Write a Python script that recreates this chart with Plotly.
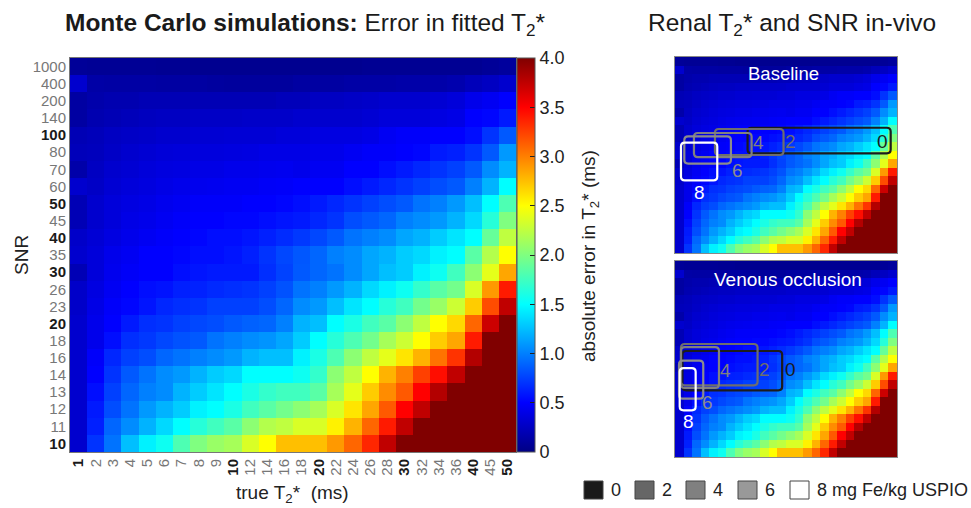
import plotly.graph_objects as go

W, H = 971, 508
FONT = "Liberation Sans"

t2_labels = ["1","2","3","4","5","6","7","8","9","10","12","14","16","18","20","22","24","26","28","30","32","34","36","40","45","50"]
snr_labels = ["10","11","12","13","14","16","18","20","23","26","30","35","40","45","50","60","70","80","100","140","200","400","1000"]
bold_t2 = ["1","10","20","30","40","50"]
bold_snr = ["10","20","30","40","50","100"]

snr10 = [.3,.7,.95,1.25,1.45,1.55,1.8,2.0,2.1,2.15,2.35,2.5,2.75,2.75,2.75,2.9,3.1,3.35,3.75,4,4,4,4,4,4,4]
snr11 = [.3,.62,.9,1.05,1.2,1.35,1.5,1.65,1.75,1.85,2.05,2.2,2.25,2.35,2.35,2.55,2.8,3.1,3.4,3.75,4,4,4,4,4,4]
snr12 = [.3,.6,.8,.95,1.1,1.2,1.3,1.45,1.5,1.6,1.75,1.85,1.95,2.05,2.15,2.35,2.6,2.85,3.15,3.5,3.75,4,4,4,4,4]
snr13 = [.3,.55,.75,.9,1.0,1.05,1.2,1.3,1.4,1.5,1.6,1.7,1.75,1.75,1.85,2.15,2.4,2.7,2.95,3.15,3.5,3.8,4,4,4,4]
snr14 = [.3,.5,.7,.85,.95,1.05,1.1,1.2,1.3,1.35,1.5,1.5,1.5,1.55,1.7,2.05,2.25,2.5,2.8,3.0,3.25,3.45,3.75,4,4,4]
snr16 = [.3,.48,.65,.75,.8,.9,.95,1.0,1.05,1.1,1.2,1.25,1.25,1.45,1.6,1.8,2.05,2.25,2.4,2.6,2.8,3.05,3.3,3.8,4,4]
snr18 = [.3,.42,.55,.68,.72,.78,.82,.85,.95,1.0,1.05,1.08,1.15,1.3,1.5,1.65,1.8,1.95,2.15,2.3,2.5,2.7,2.85,3.4,4,4]
snr20 = [.3,.42,.5,.6,.68,.7,.75,.78,.8,.85,.88,.9,1.0,1.2,1.25,1.5,1.6,1.75,1.85,2.05,2.25,2.5,2.65,3.1,3.7,4]
snr23 = [.28,.4,.48,.52,.58,.65,.68,.7,.75,.75,.75,.8,.9,1.05,1.1,1.25,1.4,1.5,1.65,1.75,1.95,2.1,2.3,2.7,3.2,3.75]
snr26 = [.28,.38,.45,.5,.55,.57,.62,.63,.66,.68,.7,.75,.82,.95,1.0,1.1,1.2,1.35,1.45,1.55,1.7,1.85,1.95,2.35,2.9,3.4]
snr30 = [.2,.35,.43,.47,.5,.5,.55,.58,.6,.6,.6,.68,.76,.85,.9,.95,1.05,1.15,1.25,1.3,1.45,1.55,1.75,2.05,2.4,2.85]
snr35 = [.3,.35,.42,.45,.5,.5,.52,.55,.55,.58,.62,.7,.78,.84,.9,1.0,1.05,1.15,1.2,1.3,1.35,1.45,1.5,1.85,2.2,2.5]
snr40 = [.28,.33,.38,.42,.45,.48,.5,.52,.55,.55,.58,.62,.67,.72,.78,.85,.95,1.0,1.05,1.15,1.2,1.3,1.4,1.5,1.9,2.25]
snr45 = [.2,.3,.35,.4,.42,.45,.48,.5,.5,.52,.52,.55,.58,.6,.65,.7,.8,.85,.9,1.0,1.05,1.1,1.2,1.35,1.65,2.0]
snr50 = [.2,.3,.35,.38,.4,.43,.45,.48,.48,.48,.5,.5,.52,.55,.6,.65,.7,.75,.8,.85,.95,1.0,1.1,1.25,1.5,1.8]
snr60 = [.3,.27,.32,.35,.37,.4,.42,.43,.44,.45,.45,.47,.48,.5,.5,.5,.55,.6,.65,.7,.75,.8,.85,1.0,1.2,1.5]
snr70 = [.15,.25,.3,.32,.35,.37,.38,.4,.4,.42,.42,.43,.44,.42,.45,.45,.5,.5,.55,.6,.65,.7,.75,.85,1.05,1.2]
snr80 = [.22,.23,.27,.3,.32,.34,.35,.36,.36,.37,.38,.4,.4,.4,.42,.42,.45,.48,.48,.5,.52,.6,.62,.7,.85,1.1]
snr100 = [.2,.22,.25,.27,.28,.3,.3,.32,.32,.33,.33,.33,.35,.35,.38,.38,.38,.4,.45,.48,.48,.5,.5,.55,.7,.85]
snr140 = [.12,.18,.2,.22,.24,.25,.25,.27,.27,.27,.28,.28,.28,.3,.3,.3,.3,.32,.35,.35,.35,.38,.4,.5,.52,.6]
snr200 = [.12,.16,.18,.18,.2,.2,.2,.2,.2,.2,.2,.2,.22,.22,.25,.25,.27,.28,.3,.3,.3,.32,.35,.42,.45,.5]
snr400 = [.3,.14,.13,.13,.13,.12,.12,.12,.11,.1,.1,.1,.1,.12,.12,.12,.14,.14,.14,.15,.15,.15,.17,.22,.25,.3]
snr1000 = [.08,.07,.07,.07,.07,.06,.06,.05,.05,.05,.05,.05,.05,.05,.05,.05,.05,.06,.06,.06,.06,.06,.06,.06,.08,.1]

error_matrix = [snr10, snr11, snr12, snr13, snr14, snr16, snr18, snr20, snr23, snr26, snr30, snr35,
                snr40, snr45, snr50, snr60, snr70, snr80, snr100, snr140, snr200, snr400, snr1000]

jet = [[0, "rgb(0,0,132)"], [0.125, "rgb(0,0,255)"], [0.375, "rgb(0,255,255)"],
       [0.625, "rgb(255,255,0)"], [0.875, "rgb(255,0,0)"], [1, "rgb(128,0,0)"]]

cbar_ticks = [0, .5, 1, 1.5, 2, 2.5, 3, 3.5, 4]
cbar_text = ["0", "0.5", "1.0", "1.5", "2.0", "2.5", "3.0", "3.5", "4.0"]

# regions of interest, in cell-index units: dose, T2 low, T2 high, SNR low, SNR high
doses = ["0", "2", "4", "6", "8"]
dose_line = ["#1c1c1c", "#6e6e6e", "#808080", "#8c8c8c", "#ffffff"]
base_t2_lo = [8.0, 4.18, 1.72, .59, .2]
base_t2_hi = [24.76, 12.21, 8.47, 6.05, 4.45]
base_snr_lo = [11.19, 11.0, 10.76, 9.98, 8.03]
base_snr_hi = [14.2, 14.05, 13.58, 13.19, 12.45]
ven_t2_lo = [.36, .2, .2, -.03, .05]
ven_t2_hi = [12.05, 9.17, 4.65, 2.81, 1.92]
ven_snr_lo = [7.32, 7.91, 7.6, 6.34, 4.98]
ven_snr_hi = [11.94, 12.76, 12.4, 10.8, 9.94]
base_label_x = [882, 790, 758, 737, 699]
base_label_y = [142, 142, 143, 170, 192]
ven_label_x = [790, 764, 725, 707, 688]
ven_label_y = [369, 369, 370, 402, 421]

legend_x = [584, 635, 686, 738, 790]
legend_fill = ["#1a1a1a", "#666666", "#808080", "#999999", "#ffffff"]
legend_text = ["0", "2", "4", "6", "8 mg Fe/kg USPIO"]


def fx(px):
    return px / W


def fy(py):
    return 1 - py / H


def fmt(labels, bold):
    return [f'<b style="color:#1a1a1a">{s}</b>' if s in bold else s for s in labels]


xi = list(range(len(t2_labels)))
yi = list(range(len(snr_labels)))

fig = go.Figure()
fig.add_trace(go.Heatmap(
    z=error_matrix, x=xi, y=yi, xaxis="x", yaxis="y", colorscale=jet, zmin=0, zmax=4,
    hoverinfo="skip",
    colorbar=dict(x=fx(516.5), xanchor="left", xpad=0, ypad=0, y=fy(452), yanchor="bottom",
                  lenmode="pixels", len=394, thicknessmode="pixels", thickness=18,
                  tickmode="array", tickvals=cbar_ticks, ticktext=cbar_text,
                  ticks="inside", ticklen=5, tickcolor="#222", tickwidth=1,
                  outlinecolor="#555", outlinewidth=1,
                  tickfont=dict(family=FONT, size=18, color="#222"))))
# same matrix in the two in-vivo panels
fig.add_trace(go.Heatmap(z=error_matrix, x=xi, y=yi, xaxis="x2", yaxis="y2", colorscale=jet,
                         zmin=0, zmax=4, hoverinfo="skip", showscale=False))
fig.add_trace(go.Heatmap(z=error_matrix, x=xi, y=yi, xaxis="x3", yaxis="y3", colorscale=jet,
                         zmin=0, zmax=4, hoverinfo="skip", showscale=False))

xr = [-.5, 25.5]
yr = [-.5, 22.5]
plain = dict(showgrid=False, zeroline=False, showticklabels=False, ticks="", showline=True,
             mirror=True, linecolor="#888", linewidth=1)
fig.update_layout(
    width=W, height=H, margin=dict(l=0, r=0, t=0, b=0, autoexpand=False),
    paper_bgcolor="white", plot_bgcolor="white", showlegend=False,
    font=dict(family=FONT, color="#222"),
    xaxis=dict(domain=[fx(70), fx(516)], range=xr, showgrid=False, zeroline=False, tickmode="array",
               tickvals=xi, ticktext=fmt(t2_labels, bold_t2), tickangle=-90, ticks="",
               tickfont=dict(family=FONT, size=15, color="#777"), showline=True, mirror=True,
               linecolor="#777", linewidth=1, anchor="y"),
    yaxis=dict(domain=[fy(452), fy(58)], range=yr, showgrid=False, zeroline=False, tickmode="array",
               tickvals=yi, ticktext=fmt(snr_labels, bold_snr), ticks="",
               tickfont=dict(family=FONT, size=15, color="#777"), showline=True, mirror=True,
               linecolor="#777", linewidth=1, anchor="x"),
    xaxis2=dict(domain=[fx(675), fx(897)], range=xr, anchor="y2", **plain),
    yaxis2=dict(domain=[fy(253), fy(57)], range=yr, anchor="x2", **plain),
    xaxis3=dict(domain=[fx(675), fx(897)], range=xr, anchor="y3", **plain),
    yaxis3=dict(domain=[fy(457), fy(261)], range=yr, anchor="x3", **plain),
)


def rounded(x0, x1, y0, y1, rx=.45, ry=.45):
    return (f"M{x0+rx},{y0} L{x1-rx},{y0} Q{x1},{y0} {x1},{y0+ry} L{x1},{y1-ry} Q{x1},{y1} {x1-rx},{y1} "
            f"L{x0+rx},{y1} Q{x0},{y1} {x0},{y1-ry} L{x0},{y0+ry} Q{x0},{y0} {x0+rx},{y0} Z")


shapes = []
for k in range(5):
    shapes.append(dict(type="path", xref="x2", yref="y2", line=dict(color=dose_line[k], width=2.2),
                       path=rounded(base_t2_lo[k], base_t2_hi[k], base_snr_lo[k], base_snr_hi[k])))
    shapes.append(dict(type="path", xref="x3", yref="y3", line=dict(color=dose_line[k], width=2.2),
                       path=rounded(ven_t2_lo[k], ven_t2_hi[k], ven_snr_lo[k], ven_snr_hi[k])))
for k in range(5):
    shapes.append(dict(type="rect", xref="paper", yref="paper", x0=fx(legend_x[k]), x1=fx(legend_x[k] + 19),
                       y0=fy(499), y1=fy(481), fillcolor=legend_fill[k], line=dict(color="#444", width=1)))

ann = []


def text(px, py, s, size, color="#222", angle=0, xanchor="center"):
    ann.append(dict(xref="paper", yref="paper", x=fx(px), y=fy(py), text=s, showarrow=False,
                    xanchor=xanchor, yanchor="middle", textangle=angle,
                    font=dict(family=FONT, size=size, color=color)))


text(63, 24, "<b>Monte Carlo simulations:</b> Error in fitted T<sub>2</sub>*", 24.5, "#1a1a1a", xanchor="left")
text(646, 24, "Renal T<sub>2</sub>* and SNR in-vivo", 24.5, "#1a1a1a", xanchor="left")
text(21, 255, "SNR", 19, angle=-90)
text(292, 494, "true T<sub>2</sub>*  (ms)", 19)
text(590, 256, "absolute error in T<sub>2</sub>* (ms)", 19, angle=-90)
text(783, 74, "Baseline", 18.5, "white")
text(788, 279, "Venous occlusion", 19, "white")
for k in range(5):
    text(base_label_x[k], base_label_y[k], doses[k], 19, dose_line[k])
    text(ven_label_x[k], ven_label_y[k], doses[k], 19, dose_line[k])
    text(legend_x[k] + 25, 490, legend_text[k], 18, xanchor="left")

fig.update_layout(shapes=shapes, annotations=ann)
fig.write_html("out.html", post_script="document.body.style.margin='0';",
               config={"displayModeBar": False})
